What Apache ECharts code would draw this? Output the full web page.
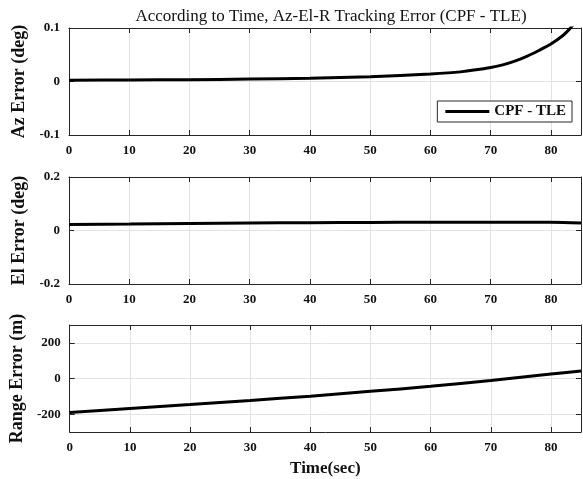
<!DOCTYPE html>
<html>
<head>
<meta charset="utf-8">
<script src="https://cdn.jsdelivr.net/npm/echarts@6/dist/echarts.min.js"></script>
<style>
    html, body { margin: 0; padding: 0; background: #fff; }
    #chart { width: 583px; height: 479px; }
</style>
</head>
<body>
<div id="chart"></div>
<script>
// Values
const azTime = [0, 10, 20, 30, 40, 50, 60, 65, 70, 72, 74, 76, 78, 80, 82, 83, 84];
const azError = [0.0025, 0.003, 0.0035, 0.0045, 0.006, 0.009, 0.014, 0.018, 0.026, 0.031, 0.038, 0.047, 0.058, 0.070, 0.086, 0.097, 0.11];

const elTime = [0, 10, 20, 30, 40, 50, 60, 70, 80, 85];
const elError = [0.0225, 0.024, 0.026, 0.028, 0.029, 0.030, 0.031, 0.031, 0.031, 0.028];

const rangeTime = [0, 10, 20, 30, 40, 50, 60, 70, 80, 85];
const rangeError = [-191, -168, -146, -123, -99, -72, -44, -11, 25, 42];

const yTicksAz = [-0.1, 0, 0.1];
const yTicksEl = [-0.2, 0, 0.2];
const yTicksRange = [-200, 0, 200];

const titleText = "According to Time, Az-El-R Tracking Error (CPF - TLE)";
const seriesName = "CPF - TLE";

const font = "Liberation Serif";
const axisColor = "#262626";
const gridColor = "#e3e3e3";

const grids = [
    { left: 69, right: 2, top: 28, height: 107 },
    { left: 69, right: 2, top: 177, height: 107 },
    { left: 69, right: 2, top: 325, height: 107 },
];

function pairs(xs, ys) {
    return xs.map((x, i) => [x, ys[i]]);
}

function xAxes(gridIndex, showName) {
    return [
        {
            type: "value", gridIndex: gridIndex, position: "bottom",
            min: 0, max: 85, interval: 10,
            name: showName ? "Time(sec)" : "",
            nameLocation: "middle", nameGap: 28,
            nameTextStyle: { fontFamily: font, fontWeight: "bold", fontSize: 17, color: "#111" },
            axisLine: { show: true, onZero: false, lineStyle: { color: axisColor, width: 1 } },
            axisTick: { show: true, inside: true, length: 5, lineStyle: { color: axisColor } },
            axisLabel: { fontFamily: font, fontWeight: "bold", fontSize: 13, color: "#111", margin: 9, showMaxLabel: false },
            splitLine: { show: true, lineStyle: { color: gridColor, width: 1 } },
        },
        {
            type: "value", gridIndex: gridIndex, position: "top",
            min: 0, max: 85, interval: 10,
            axisLine: { show: true, onZero: false, lineStyle: { color: axisColor, width: 1 } },
            axisTick: { show: true, inside: true, length: 5, lineStyle: { color: axisColor } },
            axisLabel: { show: false },
            splitLine: { show: false },
        },
    ];
}

function yAxes(gridIndex, name, min, max, ticks, decimals) {
    const fmt = (v) => (decimals > 0 && v !== 0 ? v.toFixed(decimals) : String(v));
    return [
        {
            type: "value", gridIndex: gridIndex, position: "left",
            min: min, max: max,
            name: name, nameLocation: "middle", nameGap: 34,
            nameTextStyle: { fontFamily: font, fontWeight: "bold", fontSize: 18, color: "#111" },
            axisLine: { show: true, onZero: false, lineStyle: { color: axisColor, width: 1 } },
            axisTick: { show: true, inside: true, length: 5, customValues: ticks, lineStyle: { color: axisColor } },
            axisLabel: { fontFamily: font, fontWeight: "bold", fontSize: 13, color: "#111", margin: 9, customValues: ticks, formatter: fmt },
            splitLine: { show: true, lineStyle: { color: gridColor, width: 1 } },
        },
        {
            type: "value", gridIndex: gridIndex, position: "right",
            min: min, max: max,
            axisLine: { show: true, onZero: false, lineStyle: { color: axisColor, width: 1 } },
            axisTick: { show: true, inside: true, length: 5, customValues: ticks, lineStyle: { color: axisColor } },
            axisLabel: { show: false, customValues: ticks },
            splitLine: { show: false },
        },
    ];
}

const lineSeries = (xi, yi, data, name) => ({
    name: name,
    type: "line",
    xAxisIndex: xi,
    yAxisIndex: yi,
    data: data,
    smooth: 0.3,
    showSymbol: false,
    symbol: "none",
    clip: true,
    lineStyle: { color: "#000", width: 3 },
    itemStyle: { color: "#000" },
});

const chart = echarts.init(document.getElementById("chart"));
chart.setOption({
    animation: false,
    backgroundColor: "#fff",
    title: {
        text: titleText,
        left: 326, top: 3, textAlign: "center",
        textStyle: { fontFamily: font, fontWeight: "normal", fontSize: 17, color: "#111" },
    },
    legend: {
        data: [{ name: seriesName, icon: "rect" }],
        right: 11, top: 101,
        orient: "horizontal",
        itemWidth: 44, itemHeight: 3, itemGap: 5,
        padding: [3, 6, 3, 8],
        backgroundColor: "#fff",
        borderColor: "#262626", borderWidth: 1, borderRadius: 0,
        itemStyle: { color: "#000" },
        textStyle: { fontFamily: font, fontWeight: "bold", fontSize: 15, color: "#111" },
    },
    grid: grids,
    xAxis: [].concat(xAxes(0, false), xAxes(1, false), xAxes(2, true)),
    yAxis: [].concat(
        yAxes(0, "Az Error (deg)", -0.1, 0.1, yTicksAz, 1),
        yAxes(1, "El Error (deg)", -0.2, 0.2, yTicksEl, 1),
        yAxes(2, "Range Error (m)", -300, 300, yTicksRange, 0)
    ),
    series: [
        lineSeries(0, 0, pairs(azTime, azError), seriesName),
        lineSeries(2, 2, pairs(elTime, elError), "El"),
        lineSeries(4, 4, pairs(rangeTime, rangeError), "Range"),
    ],
});
</script>
</body>
</html>
